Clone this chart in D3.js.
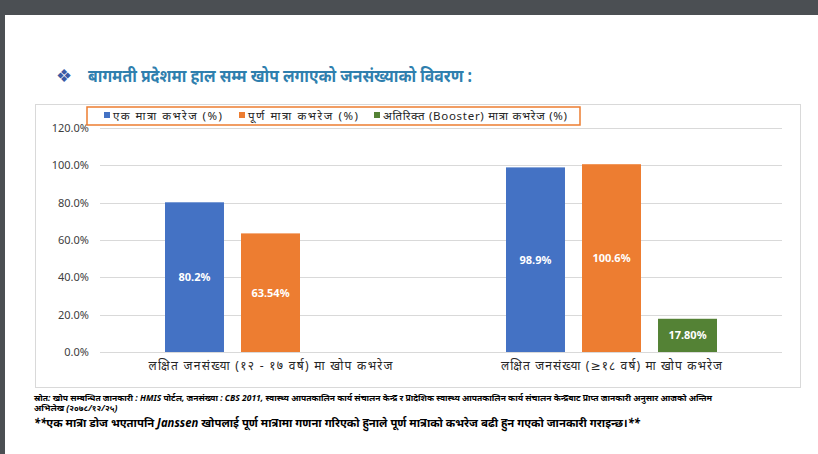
<!DOCTYPE html>
<html>
<head>
<meta charset="utf-8">
<script src="https://cdn.jsdelivr.net/npm/d3@7/dist/d3.min.js"></script>
<style>
  html, body { margin: 0; padding: 0; background: #4b4f53; }
  svg { display: block; }
  text { font-family: "Noto Sans", "DejaVu Sans", sans-serif; }
</style>
</head>
<body>
<svg id="chart" width="818" height="454"></svg>
<script>
// ---- data ----
const categories = ["लक्षित जनसंख्या (१२ - १७ वर्ष) मा खोप कभरेज", "लक्षित जनसंख्या (≥१८ वर्ष) मा खोप कभरेज"];
const seriesNames = ["एक मात्रा कभरेज (%)", "पूर्ण मात्रा कभरेज (%)", "अतिरिक्त (Booster) मात्रा कभरेज (%)"];
const seriesColors = ["#4472C4", "#ED7D31", "#548235"];
const singleDose = [80.2, 98.9];
const fullDose = [63.54, 100.6];
const booster = [null, 17.80];
const singleLabels = ["80.2%", "98.9%"];
const fullLabels = ["63.54%", "100.6%"];
const boosterLabels = [null, "17.80%"];
const yTicks = [0, 20, 40, 60, 80, 100, 120];
const title = "बागमती प्रदेशमा हाल सम्म खोप लगाएको जनसंख्याको विवरण :";
const sourceLine1 = "स्रोत: खोप सम्बन्धित जानकारी : HMIS पोर्टल, जनसंख्या : CBS 2011, स्वास्थ्य आपतकालिन कार्य संचालन केन्द्र र प्रादेशिक स्वास्थ्य आपतकालिन कार्य संचालन केन्द्रबाट प्राप्त जानकारी अनुसार आजको अन्तिम";
const sourceLine2 = "अभिलेख (२०७८/१२/२५)";
const noteLine = "**एक मात्रा डोज भएतापनि Janssen खोपलाई पूर्ण मात्रामा गणना गरिएको हुनाले पूर्ण मात्राको कभरेज बढी हुन गएको जानकारी गराइन्छ।**";

const seriesValues = [singleDose, fullDose, booster];
const seriesLabels = [singleLabels, fullLabels, boosterLabels];

const svg = d3.select("#chart");

// page
svg.append("rect").attr("x", 5).attr("y", 15).attr("width", 813).attr("height", 439).attr("fill", "#ffffff");

// title
svg.append("text").attr("x", 56).attr("y", 82).attr("fill", "#3b5ba5")
  .attr("font-size", 18).text("❖");
svg.append("text").attr("x", 88).attr("y", 82).attr("fill", "#2f7fae")
  .attr("font-size", 17).attr("font-weight", "bold")
  .attr("textLength", 384).attr("lengthAdjust", "spacingAndGlyphs").text(title);

// chart frame
svg.append("rect").attr("x", 35.5).attr("y", 104.5).attr("width", 765).attr("height", 283)
  .attr("fill", "none").attr("stroke", "#d9d9d9").attr("stroke-width", 1);

const plotLeft = 100, plotRight = 782, plotTop = 128, plotBottom = 352;

const y = d3.scaleLinear().domain([0, 120]).range([plotBottom, plotTop]);
const x0 = d3.scaleBand().domain(categories).range([plotLeft, plotRight]).paddingInner(0).paddingOuter(0);
const x1 = d3.scaleBand().domain(d3.range(seriesNames.length)).range([65, x0.bandwidth() - 65]).paddingInner(0.224).paddingOuter(0);

// gridlines
svg.append("g").selectAll("line").data(yTicks).join("line")
  .attr("x1", plotLeft).attr("x2", plotRight)
  .attr("y1", d => Math.round(y(d)) + 0.5).attr("y2", d => Math.round(y(d)) + 0.5)
  .attr("stroke", "#d9d9d9").attr("stroke-width", 1);

// y axis labels
const yAxis = d3.axisLeft(y).tickValues(yTicks).tickSize(0).tickPadding(0)
  .tickFormat(d => d3.format(".1f")(d) + "%");
const yg = svg.append("g").attr("transform", `translate(${89},0)`).call(yAxis);
yg.select(".domain").remove();
yg.selectAll("text").attr("font-size", 11).attr("fill", "#404040")
  .attr("font-family", "\"Noto Sans\", sans-serif");

// bars
const groups = svg.append("g").selectAll("g").data(categories).join("g")
  .attr("transform", d => `translate(${x0(d)},0)`);
groups.each(function(cat, ci) {
  const g = d3.select(this);
  seriesValues.forEach((vals, si) => {
    const v = vals[ci];
    if (v == null) return;
    g.append("rect")
      .attr("x", x1(si)).attr("width", x1.bandwidth())
      .attr("y", y(v)).attr("height", y(0) - y(v))
      .attr("fill", seriesColors[si]);
    g.append("text")
      .attr("x", x1(si) + x1.bandwidth() / 2)
      .attr("y", (y(v) + y(0)) / 2)
      .attr("dy", "0.35em")
      .attr("text-anchor", "middle")
      .attr("fill", "#ffffff").attr("font-size", 11).attr("font-weight", "bold")
      .text(seriesLabels[si][ci]);
  });
});

// category axis
const catWidths = [244, 221];
const xAxis = d3.axisBottom(x0).tickSize(0).tickPadding(0);
const xg = svg.append("g").attr("transform", `translate(0,${plotBottom})`).call(xAxis);
xg.select(".domain").remove();
xg.selectAll("text").attr("font-size", 12).attr("fill", "#262626").attr("dy", 0).attr("y", 18)
  .attr("font-family", "\"Noto Sans\", sans-serif")
  .attr("textLength", (d, i) => catWidths[i]).attr("lengthAdjust", "spacing");

// legend
svg.append("rect").attr("x", 87).attr("y", 107).attr("width", 493).attr("height", 18)
  .attr("fill", "#ffffff").attr("stroke", "#ED7D31").attr("stroke-width", 1.5);
const legendX = [104, 239, 374];
const legendW = [109, 110, 184];
seriesNames.forEach((name, i) => {
  svg.append("rect").attr("x", legendX[i]).attr("y", 112).attr("width", 6).attr("height", 6)
    .attr("fill", seriesColors[i]);
  svg.append("text").attr("x", legendX[i] + 9).attr("y", 120)
    .attr("font-size", 11.5).attr("fill", "#262626")
    .attr("textLength", legendW[i]).attr("lengthAdjust", "spacing").text(name);
});

// footnotes
svg.append("text").attr("x", 34).attr("y", 401).attr("font-size", 8.5)
  .attr("font-weight", "bold").attr("font-style", "italic").attr("fill", "#000")
  .attr("textLength", 678).attr("lengthAdjust", "spacingAndGlyphs").text(sourceLine1);
svg.append("text").attr("x", 34).attr("y", 411).attr("font-size", 8.5)
  .attr("font-weight", "bold").attr("font-style", "italic").attr("fill", "#000").text(sourceLine2);
svg.append("text").attr("x", 34).attr("y", 427).attr("font-size", 11.5)
  .attr("font-weight", "bold").attr("font-style", "italic").attr("fill", "#000")
  .attr("textLength", 606).attr("lengthAdjust", "spacingAndGlyphs").text(noteLine);
</script>
</body>
</html>
